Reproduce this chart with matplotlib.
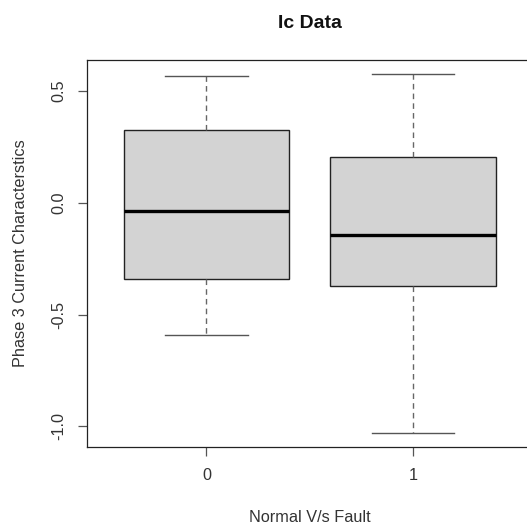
import matplotlib
matplotlib.use("Agg")
import matplotlib.pyplot as plt

plt.rcParams['font.family'] = ['Liberation Sans', 'DejaVu Sans']

# values
groups = ['0', '1']
whisker_low = [-0.592, -1.028]
q1 = [-0.343, -0.371]
medians = [-0.035, -0.144]
q3 = [0.324, 0.203]
whisker_high = [0.565, 0.574]
yticks = [-1.0, -0.5, 0.0, 0.5]

stats = []
for i, g in enumerate(groups):
    stats.append(dict(label=g, whislo=whisker_low[i], q1=q1[i], med=medians[i],
                      q3=q3[i], whishi=whisker_high[i], fliers=[]))

W, H = 527, 525
fig = plt.figure(figsize=(W / 100, H / 100), dpi=100)
left, right, top, bottom = 86.5, 533, 60, 447
ax = fig.add_axes([left / W, (H - bottom) / H, (right - left) / W, (bottom - top) / H])

ax.bxp(stats, positions=[1, 2], widths=0.8, patch_artist=True,
       boxprops=dict(facecolor='#d3d3d3', edgecolor='#222222', linewidth=1.0),
       medianprops=dict(color='black', linewidth=2.4, solid_capstyle='butt'),
       whiskerprops=dict(color='#666666', linewidth=1.0, linestyle=(0, (4, 3))),
       capprops=dict(color='#555555', linewidth=1.0), capwidths=0.4,
       showfliers=False)

ax.set_xlim(0.42, 2.58)
ax.set_ylim(-1.092, 0.638)
ax.set_xticks([1, 2])
ax.set_xticklabels(groups)
ax.set_yticks(yticks)
ax.set_yticklabels(['%.1f' % v for v in yticks], rotation=90, va='center')

for s in ax.spines.values():
    s.set_color('#222222')
    s.set_linewidth(0.9)

ax.tick_params(axis='both', length=6.5, width=0.9, color='#555555',
               labelsize=11.7, labelcolor='#333333')
ax.tick_params(axis='x', pad=8.5)
ax.tick_params(axis='y', pad=7.8)

ax.set_title('Ic Data', fontsize=14, fontweight='bold', pad=23.3, color='#111111')
ax.set_xlabel('Normal V/s Fault', fontsize=11.7, color='#333333', va='baseline')
ax.xaxis.set_label_coords(0.5, (bottom - 522.5) / (bottom - top))
ax.set_ylabel('Phase 3 Current Characterstics', fontsize=11.7, color='#333333',
              va='baseline')
ax.yaxis.set_label_coords((25 - left) / (right - left), 0.5)

fig.savefig('out.png', dpi=100)
